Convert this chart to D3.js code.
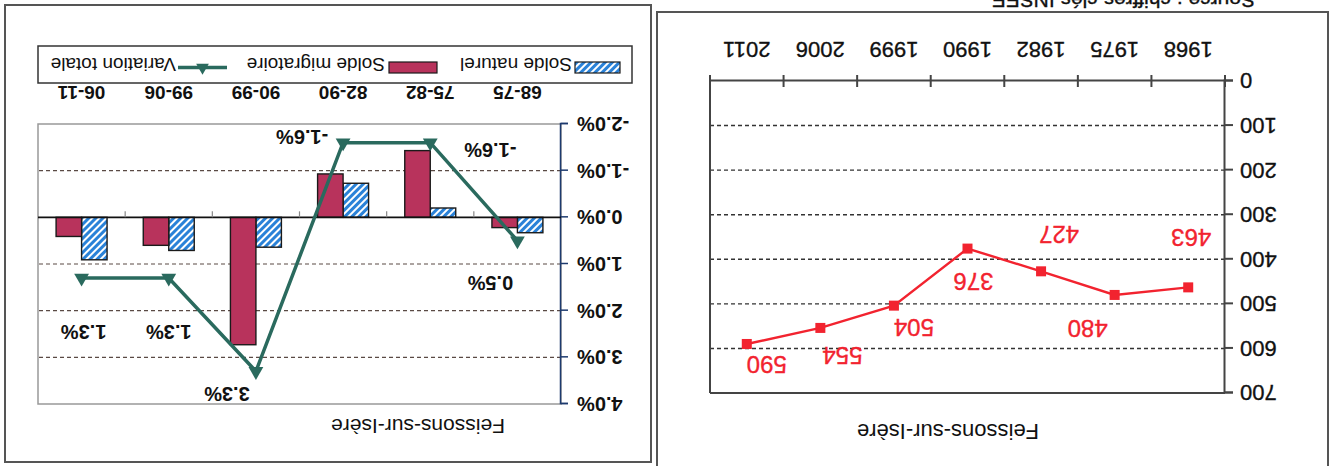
<!DOCTYPE html>
<html lang="fr">
<head>
<meta charset="UTF-8">
<title>Feissons-sur-Isère</title>
<script src="https://d3js.org/d3.v7.min.js"></script>
<style>
  body { margin: 0; background: #fff; }
  svg { display: block; font-family: "Liberation Sans", Arial, sans-serif; }
  .heavy { stroke: currentColor; stroke-width: 0.35px; }
</style>
</head>
<body>
<div id="chart"></div>
<script>
// population
const years = ["1968", "1975", "1982", "1990", "1999", "2006", "2011"];
const population = [463, 480, 427, 376, 504, 554, 590];
const popTicks = [0, 100, 200, 300, 400, 500, 600, 700];

// soldes (% par an)
const periods = ["68-75", "75-82", "82-90", "90-99", "99-06", "06-11"];
const soldeNaturel = [0.33, -0.20, -0.73, 0.64, 0.71, 0.91];
const soldeMigratoire = [0.22, -1.43, -0.93, 2.73, 0.60, 0.41];
const variationTotale = [0.5, -1.6, -1.6, 3.3, 1.3, 1.3];
const pctTicks = [-2, -1, 0, 1, 2, 3, 4];
const seriesNames = ["Solde naturel", "Solde migratoire", "Variation totale"];

// hand placed labels (offset from the point)
const popLabelOffset = [[-3, 50], [27, -34], [-18, 37], [-6, -33], [-20, -22], [-22, -28], [-20, -21]];
const varLabelOffset = [[27, -43], [-60, -8], [41, 5], [29, -23], [0, -54], [-2, -54]];

const W = 1335, H = 466;
const RED = "#f2232f", GREEN = "#2a6a5e", BAR_RED = "#b8335c", HATCH_BLUE = "#2a82d8";

const svg = d3.select("#chart").append("svg").attr("width", W).attr("height", H);
svg.append("rect").attr("width", W).attr("height", H).attr("fill", "#fff");

const defs = svg.append("defs");
const pat = defs.append("pattern").attr("id", "hatch")
    .attr("patternUnits", "userSpaceOnUse").attr("width", 5).attr("height", 5)
    .attr("patternTransform", "rotate(45)");
pat.append("rect").attr("width", 5).attr("height", 5).attr("fill", "#fff");
pat.append("rect").attr("width", 3).attr("height", 5).attr("fill", HATCH_BLUE);

// the scan is upside down: draw upright, then turn the whole page
const g = svg.append("g").attr("transform", `rotate(180 ${W / 2} ${H / 2})`);

// ---------- population panel ----------
const pop = g.append("g");
pop.append("rect").attr("x", 7).attr("y", -10).attr("width", 671).attr("height", 464)
    .attr("fill", "none").attr("stroke", "#555").attr("stroke-width", 2);

pop.append("text").attr("x", 80).attr("y", 473).attr("font-size", 21).attr("fill", "#111")
    .attr("class", "heavy").style("color", "#111")
    .text("Source : chiffres clés INSEE");

const xp = d3.scaleBand().domain(years).range([110, 625]);
const yp = d3.scaleLinear().domain([0, 700]).range([385, 73]);

pop.selectAll(".grid").data(popTicks.filter(t => t > 0 && t < 700)).join("line")
    .attr("x1", 110).attr("x2", 625).attr("y1", d => yp(d)).attr("y2", d => yp(d))
    .attr("stroke", "#333").attr("stroke-width", 1.4).attr("stroke-dasharray", "4,3");

// frame of plot area
pop.append("line").attr("x1", 110).attr("x2", 625).attr("y1", yp(700)).attr("y2", yp(700))
    .attr("stroke", "#444").attr("stroke-width", 2);
pop.append("line").attr("x1", 625).attr("x2", 625).attr("y1", yp(0)).attr("y2", yp(700))
    .attr("stroke", "#444").attr("stroke-width", 2);

const yAxisP = pop.append("g").attr("transform", "translate(110,0)")
    .call(d3.axisLeft(yp).tickValues(popTicks).tickSize(8).tickPadding(7));
yAxisP.selectAll("text").attr("font-size", 22).attr("fill", "#111").attr("font-family", "Liberation Sans, Arial")
    .attr("class", "heavy").style("color", "#111");
yAxisP.selectAll("line, path").attr("stroke", "#444").attr("stroke-width", 2);

const xAxisP = pop.append("g").attr("transform", `translate(0,${yp(0)})`)
    .call(d3.axisBottom(xp).tickSize(0).tickPadding(23));
xAxisP.select("path").attr("stroke", "#444").attr("stroke-width", 2);
xAxisP.selectAll("text").attr("font-size", 22).attr("fill", "#111").attr("font-family", "Liberation Sans, Arial")
    .attr("class", "heavy").style("color", "#111");
pop.selectAll(".xtick").data(years.map(y => xp(y)).concat([625])).join("line")
    .attr("x1", d => d).attr("x2", d => d).attr("y1", yp(0) - 6).attr("y2", yp(0) + 6)
    .attr("stroke", "#444").attr("stroke-width", 2);

const popPts = years.map((y, i) => ({ x: xp(y) + xp.bandwidth() / 2, y: yp(population[i]), v: population[i], o: popLabelOffset[i] }));
pop.append("path").datum(popPts)
    .attr("d", d3.line().x(d => d.x).y(d => d.y))
    .attr("fill", "none").attr("stroke", RED).attr("stroke-width", 2.4);
pop.selectAll(".pt").data(popPts).join("rect")
    .attr("x", d => d.x - 5).attr("y", d => d.y - 5).attr("width", 10).attr("height", 10)
    .attr("fill", RED);
pop.selectAll(".lbl").data(popPts).join("text")
    .attr("x", d => d.x + d.o[0]).attr("y", d => d.y + d.o[1]).attr("dy", "0.36em")
    .attr("text-anchor", "middle").attr("font-size", 24).attr("fill", RED)
    .attr("class", "heavy").style("color", RED)
    .text(d => d.v);

pop.append("text").attr("x", 387).attr("y", 42).attr("text-anchor", "middle")
    .attr("font-size", 22).attr("fill", "#111").text("Feissons-sur-Isère");

// ---------- soldes panel ----------
const sol = g.append("g");
sol.append("rect").attr("x", 684).attr("y", 4).attr("width", 646).attr("height", 457)
    .attr("fill", "none").attr("stroke", "#555").attr("stroke-width", 2);

const x0 = d3.scaleBand().domain(periods).range([774, 1297]);
const x1 = d3.scaleBand().domain(seriesNames.slice(0, 2)).range([0, x0.bandwidth()]).paddingOuter(0.71);
const ys = d3.scaleLinear().domain([-2, 4]).range([342, 62]);

sol.append("rect").attr("x", 774).attr("y", ys(4)).attr("width", 523).attr("height", ys(-2) - ys(4))
    .attr("fill", "none").attr("stroke", "#999").attr("stroke-width", 1.5);

sol.selectAll(".grid").data(pctTicks.filter(t => t !== 0 && t > -2 && t < 4)).join("line")
    .attr("x1", 774).attr("x2", 1297).attr("y1", d => ys(d)).attr("y2", d => ys(d))
    .attr("stroke", "#5a4a44").attr("stroke-width", 1.2).attr("stroke-dasharray", "4,3");

const yAxisS = sol.append("g").attr("transform", "translate(774,0)")
    .call(d3.axisLeft(ys).tickValues(pctTicks).tickSize(7).tickPadding(9).tickFormat(d => d.toFixed(1) + "%"));
yAxisS.selectAll("line, path").attr("stroke", "#1d3a6e").attr("stroke-width", 1.5);
yAxisS.selectAll("text").attr("font-size", 20).attr("font-weight", "bold").attr("fill", "#111")
    .attr("font-family", "Liberation Sans, Arial");

// bars
const barData = [];
periods.forEach((p, i) => {
  barData.push({ p, s: seriesNames[0], v: soldeNaturel[i] });
  barData.push({ p, s: seriesNames[1], v: soldeMigratoire[i] });
});
sol.selectAll(".bar").data(barData).join("rect")
    .attr("x", d => x0(d.p) + x1(d.s)).attr("width", x1.bandwidth())
    .attr("y", d => ys(Math.max(0, d.v))).attr("height", d => Math.abs(ys(d.v) - ys(0)))
    .attr("fill", d => d.s === seriesNames[0] ? "url(#hatch)" : BAR_RED)
    .attr("stroke", "#1a1a1a").attr("stroke-width", 1.4);

// zero line and category ticks
sol.append("line").attr("x1", 774).attr("x2", 1297).attr("y1", ys(0)).attr("y2", ys(0))
    .attr("stroke", "#111").attr("stroke-width", 1.6);
sol.selectAll(".ctick").data(periods.slice(1).map(p => x0(p))).join("line")
    .attr("x1", d => d).attr("x2", d => d).attr("y1", ys(0)).attr("y2", ys(0) + 6)
    .attr("stroke", "#888").attr("stroke-width", 1.2);

const xAxisS = sol.append("g").attr("transform", `translate(0,${ys(-2)})`)
    .call(d3.axisBottom(x0).tickSize(0).tickPadding(25));
xAxisS.select("path").remove();
xAxisS.selectAll("text").attr("font-size", 19).attr("font-weight", "bold").attr("fill", "#111")
    .attr("font-family", "Liberation Sans, Arial");

// variation totale
const varPts = periods.map((p, i) => ({ x: x0(p) + x0.bandwidth() / 2, y: ys(variationTotale[i]), v: variationTotale[i], o: varLabelOffset[i] }));
sol.append("path").datum(varPts)
    .attr("d", d3.line().x(d => d.x).y(d => d.y))
    .attr("fill", "none").attr("stroke", GREEN).attr("stroke-width", 3.5);
sol.selectAll(".tri").data(varPts).join("path")
    .attr("transform", d => `translate(${d.x},${d.y})`)
    .attr("d", d3.symbol(d3.symbolTriangle, 95)).attr("fill", GREEN);
sol.selectAll(".vlbl").data(varPts).join("text")
    .attr("x", d => d.x + d.o[0]).attr("y", d => d.y + d.o[1]).attr("dy", "0.36em")
    .attr("text-anchor", "middle").attr("font-size", 20).attr("font-weight", "bold").attr("fill", "#111")
    .text(d => d.v.toFixed(1) + "%");

// legend
const leg = sol.append("g");
leg.append("rect").attr("x", 703).attr("y", 383).attr("width", 594).attr("height", 37)
    .attr("fill", "#fff").attr("stroke", "#333").attr("stroke-width", 1.5);
const legX = [715, 898, 1108];
const legTextX = [763, 950, 1159];
leg.append("rect").attr("x", legX[0]).attr("y", 393).attr("width", 45).attr("height", 11)
    .attr("fill", "url(#hatch)").attr("stroke", "#1a1a1a").attr("stroke-width", 1.2);
leg.append("rect").attr("x", legX[1]).attr("y", 393).attr("width", 48).attr("height", 11)
    .attr("fill", BAR_RED).attr("stroke", "#1a1a1a").attr("stroke-width", 1.2);
leg.append("line").attr("x1", legX[2]).attr("x2", legX[2] + 49).attr("y1", 398.5).attr("y2", 398.5)
    .attr("stroke", GREEN).attr("stroke-width", 3.5);
leg.append("path").attr("transform", `translate(${legX[2] + 24.5},398.5)`)
    .attr("d", d3.symbol(d3.symbolTriangle, 70)).attr("fill", GREEN);
leg.selectAll(".lt").data(seriesNames).join("text")
    .attr("x", (d, i) => legTextX[i]).attr("y", 408)
    .attr("font-size", 19).attr("fill", "#111").text(d => d);

sol.append("text").attr("x", 917).attr("y", 47).attr("text-anchor", "middle")
    .attr("font-size", 21).attr("fill", "#111").text("Feissons-sur-Isère");
</script>
</body>
</html>
